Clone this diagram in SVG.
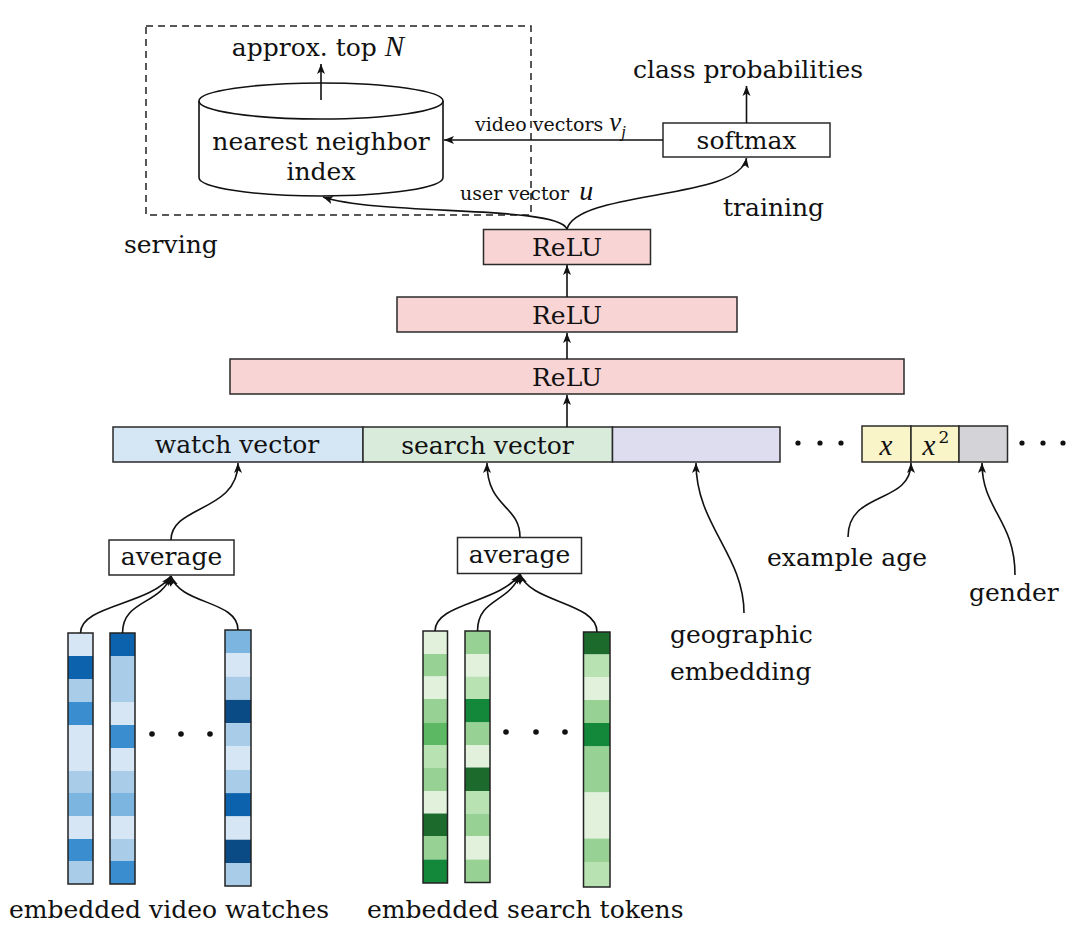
<svg xmlns="http://www.w3.org/2000/svg" width="1080" height="935" viewBox="0 0 1080 935">
<style>
text{font-family:"DejaVu Serif","Liberation Serif",serif;fill:#111;}
.t{font-size:25px;}
.s{font-size:19px;}
.m{font-family:"Liberation Serif",serif;font-style:italic;}
.box{stroke:#2a2a2a;stroke-width:1.5;}
.relu{fill:#f9d4d4;stroke:#2a2a2a;stroke-width:1.5;}
.ln{fill:none;stroke:#111;stroke-width:1.6;}
.col{fill:none;stroke:#222;stroke-width:1.5;}
.bVL{fill:#d6e6f4}.bL{fill:#a9cde9}.bML{fill:#7cb5df}.bM{fill:#3a8ed0}.bD{fill:#0d62ad}.bDD{fill:#0a4a85}
.gVL{fill:#e1f1dc}.gL{fill:#b8e2b2}.gLM{fill:#97d294}.gM{fill:#5cb862}.gD{fill:#13883a}.gDD{fill:#1d6b2c}
</style>
<defs>
<marker id="ah" markerUnits="userSpaceOnUse" markerWidth="12" markerHeight="10" refX="10" refY="5" orient="auto">
<path d="M0,1 L10,5 L0,9 L2.5,5 z" fill="#111"/>
</marker>
</defs>
<rect width="1080" height="935" fill="#fff"/>

<g id="serving">
<rect x="146" y="26" width="385" height="189" fill="none" stroke="#222" stroke-width="1.5" stroke-dasharray="7,5"/>
<text class="t" x="124" y="253">serving</text>
</g>

<g id="index">
<path d="M199,101 L199,177.5 A122,18.5 0 0 0 443,177.5 L443,101" fill="#fff" stroke="#111" stroke-width="1.6"/>
<ellipse cx="321" cy="101" rx="122" ry="18" fill="#fff" stroke="#111" stroke-width="1.6"/>
<text class="t" x="321" y="150" text-anchor="middle">nearest neighbor</text>
<text class="t" x="321" y="180" text-anchor="middle">index</text>
</g>

<g id="topn">
<text class="t" x="318" y="56" text-anchor="middle">approx. top <tspan class="m" font-size="29">N</tspan></text>
</g>

<g id="softmax">
<rect class="box" x="663" y="123" width="167" height="34" fill="#fff"/>
<text class="t" x="746.5" y="149" text-anchor="middle">softmax</text>
</g>
<text id="classprob" class="t" x="748" y="78" text-anchor="middle">class probabilities</text>
<text id="training" class="t" x="723" y="216">training</text>
<g id="videovec"><text class="s" x="475" y="131">video vectors <tspan class="m" font-size="27">v</tspan><tspan class="m" font-size="17" dy="6">j</tspan></text></g>
<g id="uservec"><text class="s" x="460" y="200">user vector <tspan class="m" font-size="28" dx="4">u</tspan></text></g>

<g id="relu3"><rect class="relu" x="483.5" y="229.5" width="167" height="35"/><text class="t" x="567" y="256" text-anchor="middle">ReLU</text></g>
<g id="relu2"><rect class="relu" x="397" y="297" width="340" height="35"/><text class="t" x="567" y="324" text-anchor="middle">ReLU</text></g>
<g id="relu1"><rect class="relu" x="230" y="359" width="674" height="35"/><text class="t" x="567" y="386" text-anchor="middle">ReLU</text></g>

<g id="embedbar">
<rect class="box" x="113" y="427" width="250" height="35" fill="#d5e6f5"/>
<rect class="box" x="363" y="427" width="249.5" height="35" fill="#d9ecdc"/>
<rect class="box" x="612.5" y="427" width="167.5" height="35" fill="#dedcef"/>
<text class="t" x="237" y="453" text-anchor="middle">watch vector</text>
<text class="t" x="487.5" y="454" text-anchor="middle">search vector</text>
</g>
<g id="dots1" fill="#111"><circle cx="798" cy="443" r="2.6"/><circle cx="820" cy="443" r="2.6"/><circle cx="841" cy="443" r="2.6"/></g>
<g id="agebar">
<rect class="box" x="862" y="426" width="49" height="36" fill="#faf4c9"/>
<rect class="box" x="911" y="426" width="48" height="36" fill="#faf4c9"/>
<rect class="box" x="959" y="426" width="48.5" height="36" fill="#d4d3d7"/>
<text class="m" x="886" y="455" text-anchor="middle" font-size="29">x</text>
<text class="m" x="929" y="455" text-anchor="middle" font-size="29">x</text>
<text x="944" y="443" text-anchor="middle" font-size="17" font-family="Liberation Serif,serif">2</text>
</g>
<g id="dots2" fill="#111"><circle cx="1022" cy="443" r="2.6"/><circle cx="1043" cy="443" r="2.6"/><circle cx="1063" cy="443" r="2.6"/></g>

<g id="avg1"><rect class="box" x="109" y="540" width="125" height="35" fill="#fff"/><text class="t" x="171.5" y="565" text-anchor="middle">average</text></g>
<g id="avg2"><rect class="box" x="457.5" y="537.5" width="124" height="36" fill="#fff"/><text class="t" x="519.5" y="563" text-anchor="middle">average</text></g>

<text id="geo1" class="t" x="670" y="643">geographic</text>
<text id="geo2" class="t" x="670" y="680">embedding</text>
<text id="age" class="t" x="767" y="566">example age</text>
<text id="gender" class="t" x="969" y="601">gender</text>
<text id="lblwatch" class="t" x="9" y="918">embedded video watches</text>
<text id="lblsearch" class="t" x="367" y="918">embedded search tokens</text>

<g id="bcol1">
<rect class="bVL" x="68" y="633" width="25" height="23"/>
<rect class="bD" x="68" y="656" width="25" height="23"/>
<rect class="bL" x="68" y="679" width="25" height="23"/>
<rect class="bM" x="68" y="702" width="25" height="23"/>
<rect class="bVL" x="68" y="725" width="25" height="46"/>
<rect class="bL" x="68" y="771" width="25" height="22"/>
<rect class="bML" x="68" y="793" width="25" height="23"/>
<rect class="bVL" x="68" y="816" width="25" height="23"/>
<rect class="bM" x="68" y="839" width="25" height="22"/>
<rect class="bL" x="68" y="861" width="25" height="23"/>
<rect class="col" x="68" y="633" width="25" height="251"/>
</g>
<g id="bcol2">
<rect class="bD" x="110" y="633" width="25" height="23"/>
<rect class="bL" x="110" y="656" width="25" height="46"/>
<rect class="bVL" x="110" y="702" width="25" height="23"/>
<rect class="bM" x="110" y="725" width="25" height="23"/>
<rect class="bVL" x="110" y="748" width="25" height="23"/>
<rect class="bL" x="110" y="771" width="25" height="22"/>
<rect class="bML" x="110" y="793" width="25" height="23"/>
<rect class="bVL" x="110" y="816" width="25" height="23"/>
<rect class="bL" x="110" y="839" width="25" height="22"/>
<rect class="bM" x="110" y="861" width="25" height="23"/>
<rect class="col" x="110" y="633" width="25" height="251"/>
</g>
<g id="bcol3">
<rect class="bML" x="225" y="630" width="26" height="23.3"/>
<rect class="bVL" x="225" y="653.3" width="26" height="23.3"/>
<rect class="bL" x="225" y="676.6" width="26" height="23.3"/>
<rect class="bDD" x="225" y="699.9" width="26" height="23.3"/>
<rect class="bL" x="225" y="723.2" width="26" height="23.3"/>
<rect class="bVL" x="225" y="746.5" width="26" height="23.3"/>
<rect class="bL" x="225" y="769.8" width="26" height="23.3"/>
<rect class="bD" x="225" y="793.1" width="26" height="23.3"/>
<rect class="bVL" x="225" y="816.4" width="26" height="23.3"/>
<rect class="bDD" x="225" y="839.7" width="26" height="23.3"/>
<rect class="bL" x="225" y="863" width="26" height="23"/>
<rect class="col" x="225" y="630" width="26" height="256"/>
</g>
<g id="bdots" fill="#111"><circle cx="152" cy="734" r="2.8"/><circle cx="181" cy="734" r="2.8"/><circle cx="210" cy="734" r="2.8"/></g>

<g id="gcol1">
<rect class="gVL" x="423" y="631" width="24.5" height="23"/>
<rect class="gLM" x="423" y="654" width="24.5" height="22.5"/>
<rect class="gVL" x="423" y="676.5" width="24.5" height="22.5"/>
<rect class="gLM" x="423" y="699" width="24.5" height="23.5"/>
<rect class="gM" x="423" y="722.5" width="24.5" height="22.5"/>
<rect class="gL" x="423" y="745" width="24.5" height="22.5"/>
<rect class="gLM" x="423" y="767.5" width="24.5" height="23.5"/>
<rect class="gVL" x="423" y="791" width="24.5" height="22.5"/>
<rect class="gDD" x="423" y="813.5" width="24.5" height="22.5"/>
<rect class="gLM" x="423" y="836" width="24.5" height="23.5"/>
<rect class="gD" x="423" y="859.5" width="24.5" height="23.5"/>
<rect class="col" x="423" y="631" width="24.5" height="252"/>
</g>
<g id="gcol2">
<rect class="gLM" x="465" y="631" width="25" height="23"/>
<rect class="gVL" x="465" y="654" width="25" height="22.5"/>
<rect class="gL" x="465" y="676.5" width="25" height="22.5"/>
<rect class="gD" x="465" y="699" width="25" height="23.5"/>
<rect class="gLM" x="465" y="722.5" width="25" height="22.5"/>
<rect class="gVL" x="465" y="745" width="25" height="22.5"/>
<rect class="gDD" x="465" y="767.5" width="25" height="23.5"/>
<rect class="gL" x="465" y="791" width="25" height="22.5"/>
<rect class="gLM" x="465" y="813.5" width="25" height="22.5"/>
<rect class="gVL" x="465" y="836" width="25" height="23.5"/>
<rect class="gLM" x="465" y="859.5" width="25" height="23"/>
<rect class="col" x="465" y="631" width="25" height="251.5"/>
</g>
<g id="gcol3">
<rect class="gDD" x="583.5" y="632" width="26.5" height="22.5"/>
<rect class="gL" x="583.5" y="654.5" width="26.5" height="22.5"/>
<rect class="gVL" x="583.5" y="677" width="26.5" height="23"/>
<rect class="gLM" x="583.5" y="700" width="26.5" height="23"/>
<rect class="gD" x="583.5" y="723" width="26.5" height="23.5"/>
<rect class="gLM" x="583.5" y="746.5" width="26.5" height="46"/>
<rect class="gVL" x="583.5" y="792.5" width="26.5" height="46"/>
<rect class="gLM" x="583.5" y="838.5" width="26.5" height="23.5"/>
<rect class="gL" x="583.5" y="862" width="26.5" height="25"/>
<rect class="col" x="583.5" y="632" width="26.5" height="255"/>
</g>
<g id="gdots" fill="#111"><circle cx="506" cy="732" r="2.8"/><circle cx="536" cy="732" r="2.8"/><circle cx="565" cy="732" r="2.8"/></g>

<g id="connectors">
<path class="ln" d="M321,100 L321,64" marker-end="url(#ah)"/>
<path class="ln" d="M663,140 L444,140" marker-end="url(#ah)"/>
<path class="ln" d="M746.5,123 L746.5,86" marker-end="url(#ah)"/>
<path class="ln" d="M567,229 C558,205 380,216 323,197" marker-end="url(#ah)"/>
<path class="ln" d="M567,229 C578,190 740,200 746.5,158" marker-end="url(#ah)"/>
<path class="ln" d="M567,297 L567,265" marker-end="url(#ah)"/>
<path class="ln" d="M567,359 L567,333" marker-end="url(#ah)"/>
<path class="ln" d="M567,427 L567,395" marker-end="url(#ah)"/>
<path class="ln" d="M80.5,633 C80.5,605 150,605 171,576" marker-end="url(#ah)"/>
<path class="ln" d="M122.5,633 C122.5,600 160,605 171,576" marker-end="url(#ah)"/>
<path class="ln" d="M238,630 C238,600 180,605 171,576" marker-end="url(#ah)"/>
<path class="ln" d="M435,631 C435,603 500,603 520,574" marker-end="url(#ah)"/>
<path class="ln" d="M477.5,631 C477.5,598 510,603 520,574" marker-end="url(#ah)"/>
<path class="ln" d="M597,632 C597,602 530,603 520,574" marker-end="url(#ah)"/>
<path class="ln" d="M171,540 C171,505 238,512 238,463" marker-end="url(#ah)"/>
<path class="ln" d="M520,537 C520,505 487,508 487,463" marker-end="url(#ah)"/>
<path class="ln" d="M744,613 C744,555 696,525 696,463" marker-end="url(#ah)"/>
<path class="ln" d="M848,537 C848,490 911,505 911,463" marker-end="url(#ah)"/>
<path class="ln" d="M1015,575 C1015,520 982,510 982,463" marker-end="url(#ah)"/>
</g>
</svg>
